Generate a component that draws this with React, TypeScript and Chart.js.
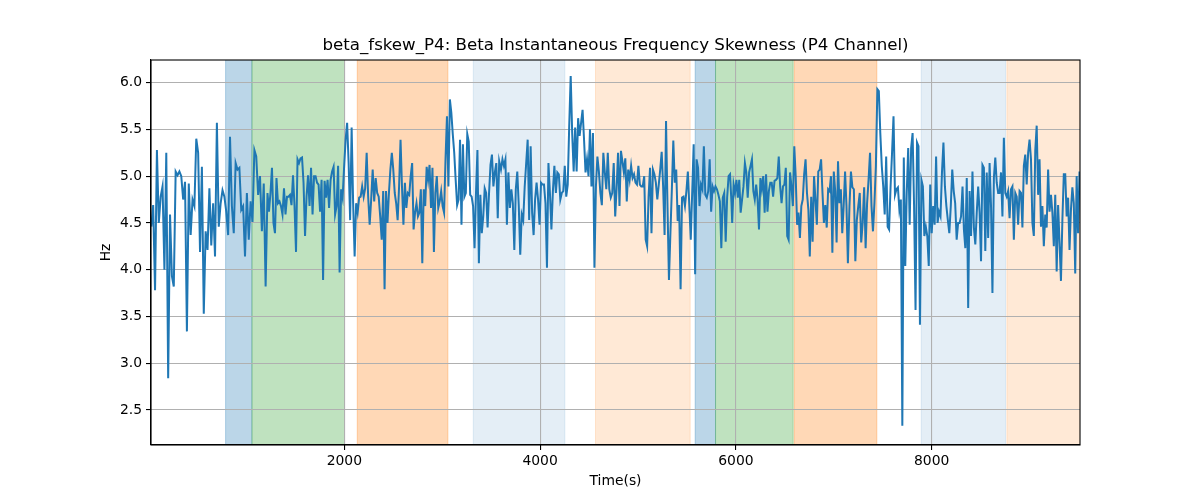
import React, { useEffect, useRef } from "react";
import { Chart, registerables } from "chart.js";

Chart.register(...registerables);

// Series values (left to right)
const segA = [4.46, 4.69, 3.78, 5.28, 4.5, 4.78, 4.89, 4.0, 5.25, 2.84, 4.59, 3.93, 3.82, 5.05, 5.01, 5.05, 5.0, 4.75, 4.94, 3.34, 4.92, 4.37, 4.75, 4.68, 5.4, 5.25, 4.19, 5.1, 3.53, 4.41, 4.21, 4.87, 4.26, 4.71, 4.14, 5.57, 4.46, 4.71, 4.85, 4.78, 4.62, 4.37, 5.42, 4.68, 4.39, 5.14, 5.07, 5.09, 4.64, 4.68, 4.14, 4.82, 4.32, 4.73, 4.51, 5.28, 5.21, 4.8, 5.0, 4.41, 4.92, 3.82, 4.82];
const segB = [4.62, 4.82, 5.09, 4.5, 4.39, 4.98, 4.71, 4.73, 4.68, 4.59, 4.87, 4.59, 4.78, 4.78, 4.8, 4.69, 5.01, 4.68, 4.19, 5.18, 5.14, 5.19, 5.2, 4.93, 4.36, 4.78, 5.01, 4.68, 5.09, 4.59, 5.0, 5.0, 4.93, 4.91, 4.62, 4.96, 3.89, 4.95, 4.77, 4.96, 4.66, 4.96, 5.05, 5.1, 4.59, 4.68, 5.11, 3.97, 4.86, 4.77, 5.1, 5.39, 5.57, 5.14, 4.53, 5.52, 4.71, 4.14, 4.71, 4.61, 4.77, 4.78, 4.89, 4.78, 4.87, 5.25, 4.78, 4.48, 4.75, 5.07, 4.73, 4.98, 4.82, 4.78, 4.57, 4.32, 4.84];
const segC = [3.79, 4.84, 4.5, 4.82, 5.07, 5.25, 5.07, 4.82, 4.71, 4.53, 4.89, 5.39, 4.89, 4.48, 4.93, 4.66, 4.82, 4.8, 5.0, 5.14, 4.43, 4.61, 4.71, 4.57, 4.61, 4.86, 4.07, 4.86, 4.68, 5.1, 4.96, 5.12, 4.66, 5.09, 4.19, 4.82, 5.0, 4.66, 4.73, 4.84, 4.68, 4.61, 5.18, 5.64, 4.89, 5.82, 5.68, 5.45, 5.25, 4.96, 4.69, 4.75, 5.39, 4.48, 5.34, 4.78, 4.82, 5.45, 5.37, 4.8, 4.78, 4.68, 4.23, 4.82, 5.28, 4.07, 4.8, 4.39, 4.57, 4.87, 4.82, 4.45, 4.82, 5.12, 5.23, 4.89, 5.04, 5.14, 4.55, 5.16];
const segD = [5.07, 5.18, 5.11, 5.18, 4.48, 5.04, 4.66, 4.86, 4.71, 4.21, 4.86, 5.05, 4.68, 4.16, 4.59, 4.53, 4.89, 5.14, 5.39, 4.53, 5.32, 4.61, 4.37, 4.75, 4.93, 4.75, 4.48, 4.93, 4.91, 4.91, 4.71, 4.02, 5.14, 4.82, 4.43, 4.84, 5.11, 4.82, 5.04, 5.02, 4.75, 4.82, 4.84, 5.11, 4.78, 4.91, 5.54, 6.07, 5.46, 5.05, 5.52, 5.05, 5.62, 5.43, 5.57, 5.71, 5.39, 5.04, 5.18, 5.0, 5.5, 4.89, 5.46, 4.02, 4.89, 5.21, 5.05, 4.82, 4.69, 5.25, 5.04, 4.86, 5.25, 4.86, 4.77, 4.82, 5.14, 4.57];
const segE = [4.86, 5.25, 4.68, 5.27, 5.16, 5.04, 5.19, 4.73, 5.07, 4.96, 5.11, 4.98, 5.02, 4.93, 4.91, 5.11, 4.91, 4.89, 4.89, 5.0, 4.32, 4.25, 4.78, 5.09, 4.39, 5.07, 5.02, 4.93, 4.75, 4.91, 5.07, 5.26, 4.89, 4.37, 5.59, 4.68, 3.89, 4.39, 4.86, 5.38, 4.93, 5.07, 4.52, 4.69, 3.79, 4.77, 4.78, 4.68, 4.84, 5.05, 4.68, 4.32, 4.84, 5.34, 3.95, 5.18, 5.09, 4.68, 4.91, 4.86, 5.32, 4.8, 4.77, 4.84, 5.18, 4.62, 4.89, 4.84, 4.89, 4.86, 4.8, 4.73, 4.23, 4.77, 4.82, 4.3, 4.77, 5.0, 5.02, 4.71];
const segF = [4.5, 4.91, 4.82, 4.96, 4.77, 4.96, 4.61, 4.75, 4.89, 5.14, 5.04, 4.77, 5.04, 5.11, 5.18, 4.84, 4.75, 4.91, 4.75, 4.43, 4.98, 4.86, 5.0, 4.61, 5.02, 4.62, 4.84, 4.93, 4.93, 4.78, 4.95, 4.96, 4.98, 5.21, 4.89, 4.71, 4.89, 4.91, 5.09, 4.36, 4.32, 5.04, 4.89, 4.68, 5.32, 5.0, 4.48, 4.61, 4.34, 4.68, 4.75, 5.02, 5.18, 4.82, 4.64, 4.14, 4.78, 4.3, 5.0, 4.75, 4.48, 5.05, 5.07, 5.18, 4.82, 4.5, 4.69, 4.45, 4.86, 4.84, 5.0, 4.18, 5.05, 4.84, 4.29, 5.16, 4.71, 4.86, 4.39, 4.68, 5.05, 4.68, 4.07];
const segG = [4.68, 5.05, 4.88, 4.86, 4.09, 4.53, 4.68, 4.82, 4.29, 4.5, 4.88, 4.23, 4.71, 4.96, 5.25, 4.68, 4.41, 4.71, 5.11, 5.93, 5.91, 5.46, 5.11, 4.89, 4.59, 5.21, 4.46, 4.43, 4.89, 5.25, 5.64, 4.8, 4.86, 4.88, 4.64, 4.75, 2.33, 5.2, 4.04, 4.82, 5.3, 4.48, 5.3, 5.46, 4.68, 3.57, 5.36, 5.32, 3.41, 4.96, 4.89, 4.36, 4.46, 4.36, 4.04, 4.91, 4.39, 4.68, 4.48, 5.21, 4.5, 4.62, 4.57, 5.04, 5.36, 4.89, 4.68, 4.53, 4.39, 4.68, 5.07, 4.84, 4.71, 4.32, 4.5, 4.5, 4.57, 4.89];
const segH = [4.43, 4.23, 4.98, 3.59, 4.84, 4.36, 5.05, 4.45, 4.27, 4.61, 4.89, 4.61, 4.09, 5.12, 5.09, 4.2, 5.04, 4.34, 5.14, 4.68, 3.75, 4.98, 5.2, 4.93, 4.82, 4.82, 5.04, 4.57, 5.41, 4.82, 4.78, 4.84, 4.55, 4.86, 4.89, 4.32, 4.82, 4.78, 4.48, 4.84, 4.82, 4.45, 5.11, 5.23, 4.91, 5.25, 5.39, 5.18, 4.5, 4.36, 5.27, 5.54, 4.8, 5.18, 4.46, 4.68, 4.25, 4.59, 4.45, 5.07, 4.62, 4.8, 4.61, 4.25, 4.8, 3.98, 4.69, 4.29, 3.88, 4.53, 5.02, 5.02, 4.57, 4.77, 4.21, 4.64, 4.88, 4.71, 3.96, 5.0, 4.39, 5.05];

const segments = [segA, segB, segC, segD, segE, segF, segG, segH];
// Time (s) of first and last sample of each segment
const segmentStart = [28, 1230, 2411, 3600, 4781, 5962, 7160, 8329];
const segmentEnd = [1215, 2397, 3582, 4767, 5955, 7144, 8315, 9510];

// Shaded intervals
const spanStart = [787, 1056, 2132, 3317, 4566, 5584, 5792, 6596, 7893, 8768];
const spanEnd = [1056, 2002, 3058, 4253, 5533, 5792, 6585, 7440, 8754, 9600];
const spanColor = [
  "rgba(31,119,180,0.3)",
  "rgba(44,160,44,0.3)",
  "rgba(255,127,14,0.3)",
  "rgba(31,119,180,0.12)",
  "rgba(255,127,14,0.17)",
  "rgba(31,119,180,0.3)",
  "rgba(44,160,44,0.3)",
  "rgba(255,127,14,0.3)",
  "rgba(31,119,180,0.12)",
  "rgba(255,127,14,0.17)",
];

const xTicks = [2000, 4000, 6000, 8000];
const yTicks = [2.5, 3.0, 3.5, 4.0, 4.5, 5.0, 5.5, 6.0];

const X_MIN = 25;
const X_MAX = 9515;
const Y_MIN = 2.125;
const Y_MAX = 6.242;

const TITLE = "beta_fskew_P4: Beta Instantaneous Frequency Skewness (P4 Channel)";

function buildPoints() {
  const pts: { x: number; y: number }[] = [];
  segments.forEach((vals, s) => {
    const n = vals.length;
    const t0 = segmentStart[s];
    const t1 = segmentEnd[s];
    vals.forEach((v, i) => {
      const t = n > 1 ? t0 + ((t1 - t0) * i) / (n - 1) : t0;
      pts.push({ x: t, y: v });
    });
  });
  return pts;
}

const spansPlugin = {
  id: "spans",
  beforeDraw(chart: any) {
    const { ctx, chartArea, scales } = chart;
    const xs = scales.x;
    ctx.save();
    ctx.beginPath();
    ctx.rect(chartArea.left, chartArea.top, chartArea.right - chartArea.left, chartArea.bottom - chartArea.top);
    ctx.clip();
    for (let i = 0; i < spanStart.length; i++) {
      const x0 = xs.getPixelForValue(spanStart[i]);
      const x1 = xs.getPixelForValue(spanEnd[i]);
      ctx.fillStyle = spanColor[i];
      ctx.fillRect(x0, chartArea.top, x1 - x0, chartArea.bottom - chartArea.top);
      ctx.strokeStyle = spanColor[i];
      ctx.lineWidth = 1;
      ctx.beginPath();
      ctx.moveTo(x0, chartArea.top);
      ctx.lineTo(x0, chartArea.bottom);
      ctx.moveTo(x1, chartArea.top);
      ctx.lineTo(x1, chartArea.bottom);
      ctx.stroke();
    }
    ctx.restore();
  },
};

const framePlugin = {
  id: "frame",
  afterDraw(chart: any) {
    const { ctx, chartArea } = chart;
    ctx.save();
    ctx.strokeStyle = "#000";
    ctx.lineWidth = 1.1;
    ctx.strokeRect(chartArea.left, chartArea.top, chartArea.right - chartArea.left, chartArea.bottom - chartArea.top);
    ctx.restore();
  },
};

export default function App() {
  const canvasRef = useRef<HTMLCanvasElement | null>(null);

  useEffect(() => {
    document.body.style.margin = "0";
    const canvas = canvasRef.current;
    if (!canvas) return;
    const font = "'DejaVu Sans', sans-serif";
    const chart = new Chart(canvas, {
      type: "line",
      data: {
        datasets: [
          {
            data: buildPoints(),
            borderColor: "#1f77b4",
            borderWidth: 2,
            pointRadius: 0,
            tension: 0,
            fill: false,
          },
        ],
      },
      options: {
        animation: false,
        responsive: false,
        devicePixelRatio: 1,
        layout: { padding: { left: 0, right: 120, top: 0, bottom: 0 } },
        plugins: {
          legend: { display: false },
          tooltip: { enabled: false },
          title: {
            display: true,
            fullSize: false,
            text: TITLE,
            color: "#000",
            font: { family: font, size: 16.67, weight: "normal" },
            padding: { top: 35.5, bottom: 4.5 },
          },
        },
        scales: {
          x: {
            type: "linear",
            min: X_MIN,
            max: X_MAX,
            afterFit: (s: any) => {
              s.height = 55;
            },
            afterBuildTicks: (s: any) => {
              s.ticks = xTicks.map((v) => ({ value: v }));
            },
            ticks: {
              color: "#000",
              font: { family: font, size: 13.9 },
              padding: 3,
              maxRotation: 0,
              autoSkip: false,
              callback: (v: any) => String(v),
            },
            grid: {
              color: "#b0b0b0",
              lineWidth: 1.1,
              tickColor: "#000",
              tickLength: 5,
              tickWidth: 1.1,
            },
            border: { display: true, color: "#000", width: 1.1 },
            title: {
              display: true,
              text: "Time(s)",
              color: "#000",
              font: { family: font, size: 13.9 },
              padding: { top: 0, bottom: 10.7 },
            },
          },
          y: {
            type: "linear",
            min: Y_MIN,
            max: Y_MAX,
            afterFit: (s: any) => {
              s.width = 151;
            },
            afterBuildTicks: (s: any) => {
              s.ticks = yTicks.map((v) => ({ value: v }));
            },
            ticks: {
              color: "#000",
              font: { family: font, size: 13.9 },
              padding: 4,
              autoSkip: false,
              callback: (v: any) => Number(v).toFixed(1),
            },
            grid: {
              color: "#b0b0b0",
              lineWidth: 1.1,
              tickColor: "#000",
              tickLength: 5,
              tickWidth: 1.1,
            },
            border: { display: true, color: "#000", width: 1.1 },
            title: {
              display: true,
              text: "Hz",
              color: "#000",
              font: { family: font, size: 13.9 },
              padding: { top: 97.7, bottom: 0 },
            },
          },
        },
      },
      plugins: [spansPlugin, framePlugin],
    });
    return () => chart.destroy();
  }, []);

  return (
    <div style={{ width: 1200, height: 500 }}>
      <canvas ref={canvasRef} width={1200} height={500} style={{ display: "block" }} />
    </div>
  );
}
